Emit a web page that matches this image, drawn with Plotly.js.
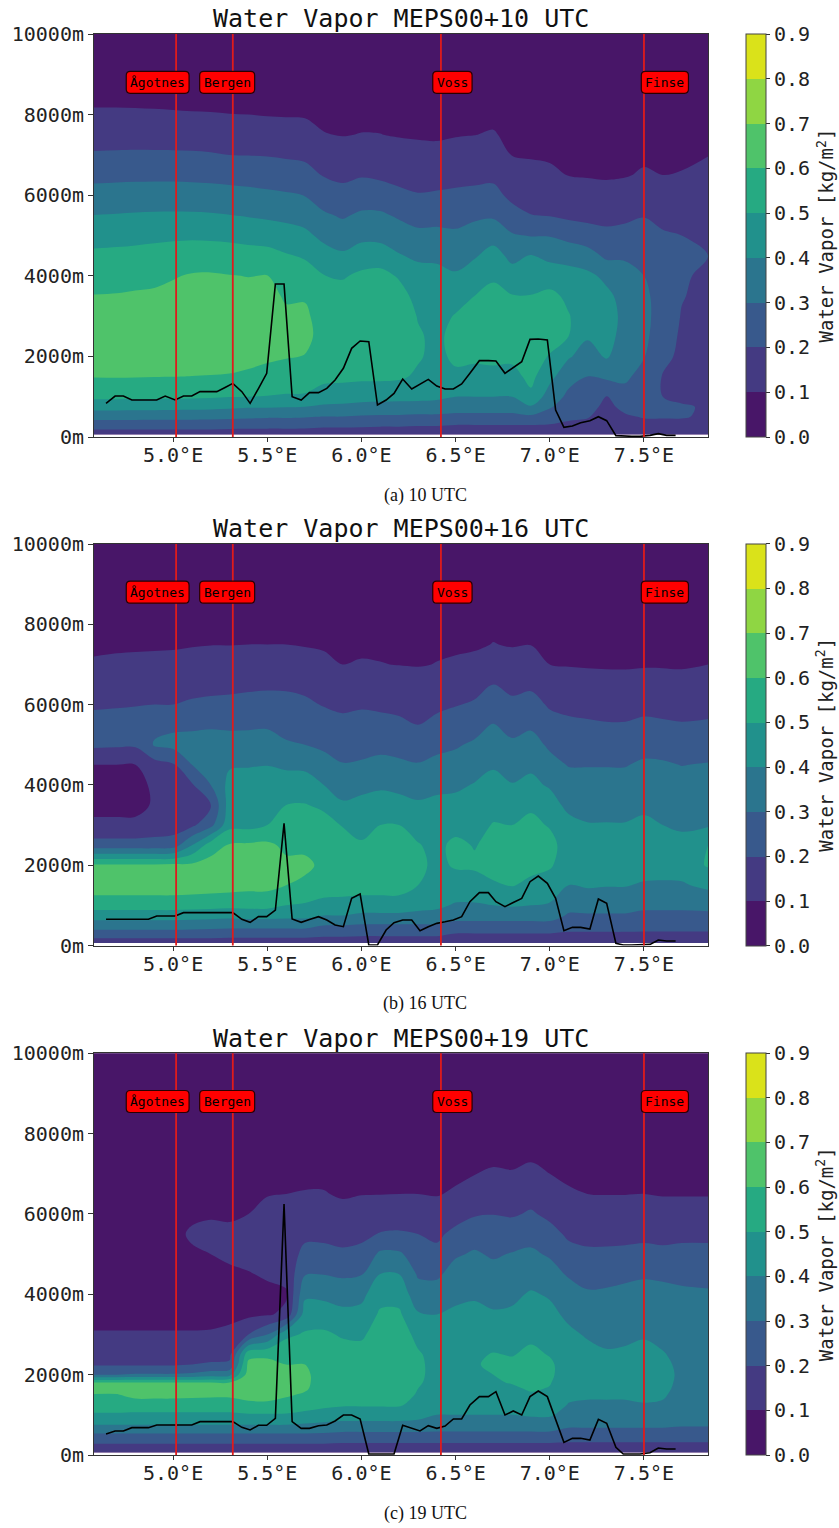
<!DOCTYPE html>
<html><head><meta charset="utf-8">
<script src="https://cdn.plot.ly/plotly-3.0.1.min.js"></script>
<style>html,body{margin:0;padding:0;background:#fff}#chart{width:839px;height:1528px}</style>
</head><body><div id="chart"></div>
<script>
// ---------------- data ----------------
const lons = [4.58,4.7,4.8,4.9,5.0,5.1,5.2,5.3,5.4,5.5,5.6,5.7,5.8,5.9,6.0,6.1,6.2,6.3,6.4,6.5,6.6,6.7,6.8,6.9,7.0,7.1,7.2,7.3,7.4,7.5,7.6,7.7,7.84];
const heightsA = [60,150,300,500,750,1000,1500,2000,2500,3000,3500,4000,4500,5000,5500,6000,6500,7000,7500,8000,8500,9000,10000];
const heightsB = [60,150,300,500,750,1000,1250,1500,1650,1800,2000,2250,2500,3000,3500,4000,4500,5000,5500,6000,6500,7000,7500,8000,9000,10000];

// water vapour profiles, one array per longitude (bottom -> top)
const wv10 = [
[.14,.185,.25,.332,.438,.522,.604,.632,.66,.632,.603,.562,.519,.465,.401,.337,.273,.21,.159,.111,.08,.06,.04],
[.14,.185,.25,.332,.438,.52,.605,.635,.66,.635,.605,.568,.523,.469,.405,.34,.276,.212,.16,.111,.08,.06,.04],
[.14,.185,.25,.332,.436,.52,.604,.635,.662,.638,.61,.573,.527,.474,.409,.343,.278,.213,.161,.11,.08,.06,.04],
[.14,.185,.25,.33,.435,.518,.602,.635,.665,.64,.614,.578,.532,.48,.412,.345,.279,.213,.159,.108,.08,.06,.04],
[.14,.185,.248,.328,.432,.517,.601,.635,.665,.645,.622,.594,.539,.484,.413,.345,.279,.213,.158,.106,.08,.06,.04],
[.14,.185,.248,.328,.43,.515,.599,.64,.67,.655,.632,.607,.553,.484,.412,.343,.276,.211,.157,.104,.08,.06,.04],
[.14,.185,.246,.326,.426,.51,.597,.638,.668,.655,.633,.61,.55,.481,.409,.34,.273,.207,.155,.103,.08,.06,.04],
[.14,.18,.24,.323,.42,.503,.594,.635,.665,.65,.63,.603,.546,.476,.402,.334,.267,.2,.15,.101,.08,.06,.04],
[.14,.18,.235,.316,.41,.5,.585,.625,.655,.645,.625,.598,.536,.468,.393,.327,.262,.198,.149,.1,.08,.06,.04],
[.14,.18,.232,.31,.41,.497,.57,.615,.645,.64,.625,.602,.533,.458,.384,.318,.256,.195,.145,.096,.08,.06,.04],
[.14,.18,.232,.31,.405,.49,.56,.605,.625,.615,.59,.56,.508,.442,.374,.31,.248,.188,.14,.094,.08,.06,.04],
[.14,.18,.23,.305,.4,.49,.55,.598,.615,.61,.595,.54,.49,.423,.36,.298,.236,.18,.135,.092,.08,.06,.04],
[.14,.175,.22,.298,.385,.45,.53,.565,.58,.575,.55,.502,.44,.375,.313,.252,.194,.148,.103,.085,.07,.06,.04],
[.14,.175,.22,.298,.38,.445,.525,.56,.575,.565,.54,.49,.415,.35,.289,.231,.18,.137,.097,.08,.07,.06,.04],
[.14,.175,.215,.29,.37,.435,.52,.56,.58,.575,.56,.52,.446,.376,.315,.252,.193,.147,.102,.085,.07,.06,.04],
[.14,.175,.21,.285,.365,.435,.52,.56,.58,.575,.56,.53,.45,.37,.315,.245,.183,.142,.101,.085,.07,.06,.04],
[.14,.175,.21,.285,.365,.43,.515,.555,.57,.56,.535,.49,.407,.347,.287,.22,.172,.132,.095,.082,.07,.06,.04],
[.14,.175,.205,.28,.36,.43,.485,.51,.51,.495,.47,.44,.382,.322,.265,.205,.164,.124,.092,.08,.07,.06,.04],
[.14,.175,.205,.28,.36,.42,.46,.475,.48,.475,.46,.43,.38,.323,.27,.21,.167,.122,.09,.08,.07,.06,.04],
[.14,.17,.2,.27,.35,.4,.48,.52,.53,.505,.47,.41,.365,.315,.27,.215,.175,.135,.095,.08,.07,.06,.04],
[.14,.17,.2,.27,.35,.4,.465,.52,.54,.525,.5,.44,.392,.335,.285,.22,.178,.137,.099,.082,.07,.06,.04],
[.14,.17,.2,.27,.35,.4,.47,.525,.55,.54,.52,.49,.43,.37,.285,.225,.182,.14,.105,.085,.07,.06,.04],
[.14,.17,.2,.27,.35,.4,.47,.52,.54,.53,.505,.43,.38,.31,.23,.18,.14,.098,.085,.075,.07,.06,.04],
[.14,.17,.2,.28,.39,.48,.525,.53,.545,.535,.502,.47,.405,.295,.202,.165,.125,.093,.082,.075,.07,.06,.04],
[.14,.17,.195,.25,.31,.35,.43,.495,.53,.545,.525,.45,.375,.295,.195,.155,.115,.09,.08,.075,.07,.06,.04],
[.14,.165,.19,.21,.25,.28,.33,.41,.5,.505,.48,.43,.37,.265,.18,.145,.098,.09,.08,.075,.07,.06,.04],
[.14,.16,.18,.205,.23,.25,.3,.36,.41,.45,.455,.42,.345,.24,.175,.13,.095,.085,.08,.075,.07,.06,.04],
[.14,.15,.16,.17,.18,.19,.32,.41,.43,.44,.42,.38,.28,.22,.175,.125,.092,.085,.08,.075,.07,.06,.04],
[.14,.15,.165,.19,.22,.26,.32,.35,.37,.375,.37,.34,.285,.23,.18,.135,.095,.085,.08,.075,.07,.06,.04],
[.14,.15,.18,.205,.215,.22,.26,.305,.32,.325,.32,.3,.27,.24,.195,.15,.108,.088,.08,.075,.07,.06,.04],
[.14,.15,.18,.205,.21,.2,.195,.225,.25,.26,.26,.25,.235,.21,.175,.14,.1,.088,.08,.075,.07,.06,.04],
[.14,.15,.18,.205,.205,.19,.175,.18,.185,.195,.205,.21,.205,.2,.17,.135,.103,.09,.08,.075,.07,.06,.04],
[.14,.15,.17,.19,.195,.185,.17,.165,.165,.17,.175,.185,.2,.195,.175,.155,.125,.098,.085,.075,.07,.06,.04]
];
const wv16 = [
[.14,.185,.26,.345,.45,.545,.655,.615,.24,.12,.07,.07,.1,.22,.24,.185,.16,.11,.085,.075,.07,.06,.04],
[.14,.185,.26,.345,.45,.545,.655,.615,.24,.12,.07,.07,.1,.215,.245,.19,.165,.115,.088,.075,.07,.06,.04],
[.14,.185,.26,.345,.45,.545,.655,.615,.24,.12,.072,.072,.1,.215,.25,.195,.165,.12,.088,.075,.07,.06,.04],
[.14,.185,.26,.345,.45,.545,.655,.615,.24,.14,.11,.115,.16,.31,.27,.2,.17,.12,.09,.075,.07,.06,.04],
[.14,.185,.26,.345,.45,.545,.655,.62,.25,.15,.13,.14,.19,.33,.28,.2,.17,.125,.09,.075,.07,.06,.04],
[.14,.185,.26,.34,.445,.54,.65,.62,.4,.18,.15,.19,.3,.34,.28,.21,.175,.13,.095,.078,.07,.06,.04],
[.14,.185,.255,.335,.44,.535,.645,.64,.55,.27,.19,.3,.36,.35,.285,.215,.18,.135,.098,.08,.07,.06,.04],
[.14,.18,.25,.33,.43,.53,.64,.655,.61,.47,.45,.43,.39,.335,.285,.22,.18,.135,.098,.08,.07,.06,.04],
[.14,.18,.25,.33,.44,.53,.63,.66,.615,.47,.45,.43,.395,.34,.285,.225,.185,.14,.1,.082,.07,.06,.04],
[.14,.18,.25,.33,.44,.53,.63,.66,.62,.5,.46,.44,.398,.34,.288,.228,.188,.142,.1,.082,.07,.06,.04],
[.14,.18,.25,.33,.43,.5,.6,.62,.58,.54,.5,.44,.385,.31,.27,.23,.185,.14,.1,.082,.07,.06,.04],
[.14,.18,.25,.33,.43,.49,.58,.62,.58,.55,.505,.44,.38,.3,.265,.215,.18,.135,.095,.08,.07,.06,.04],
[.14,.175,.23,.3,.4,.47,.55,.58,.57,.54,.48,.4,.33,.285,.24,.195,.165,.12,.09,.078,.07,.06,.04],
[.14,.175,.23,.3,.4,.47,.54,.555,.54,.495,.415,.35,.305,.26,.22,.185,.155,.1,.085,.075,.07,.06,.04],
[.14,.175,.22,.29,.38,.46,.54,.555,.51,.47,.42,.38,.31,.27,.23,.19,.155,.105,.088,.078,.07,.06,.04],
[.14,.175,.22,.29,.38,.46,.54,.56,.545,.5,.44,.385,.32,.28,.225,.185,.15,.102,.088,.078,.07,.06,.04],
[.14,.175,.22,.29,.38,.46,.54,.56,.545,.5,.43,.375,.315,.27,.215,.18,.145,.098,.088,.078,.07,.06,.04],
[.14,.175,.22,.29,.37,.44,.5,.52,.505,.47,.41,.37,.305,.26,.2,.17,.14,.095,.085,.075,.07,.06,.04],
[.14,.175,.22,.29,.37,.42,.46,.48,.48,.46,.42,.38,.32,.28,.225,.18,.148,.102,.088,.078,.07,.06,.04],
[.14,.175,.2,.27,.34,.39,.46,.51,.52,.47,.425,.385,.335,.29,.245,.195,.16,.11,.088,.078,.07,.06,.04],
[.14,.175,.2,.27,.34,.39,.46,.515,.495,.47,.44,.405,.365,.315,.26,.21,.17,.12,.09,.08,.07,.06,.04],
[.14,.175,.2,.27,.34,.4,.49,.53,.525,.505,.47,.43,.39,.345,.305,.25,.2,.15,.102,.085,.07,.06,.04],
[.14,.175,.2,.27,.34,.41,.505,.53,.525,.5,.45,.405,.36,.315,.27,.22,.175,.13,.095,.08,.07,.06,.04],
[.14,.175,.2,.27,.34,.4,.48,.525,.53,.515,.49,.42,.385,.335,.285,.23,.185,.14,.098,.082,.07,.06,.04],
[.14,.175,.2,.27,.34,.39,.46,.51,.52,.495,.44,.39,.33,.285,.23,.19,.145,.1,.085,.075,.07,.06,.04],
[.14,.17,.19,.24,.29,.33,.4,.455,.47,.43,.375,.34,.295,.26,.215,.18,.14,.095,.085,.075,.07,.06,.04],
[.14,.17,.19,.24,.29,.34,.41,.45,.45,.405,.37,.335,.295,.25,.21,.175,.135,.092,.082,.075,.07,.06,.04],
[.14,.17,.19,.24,.29,.34,.405,.44,.445,.405,.37,.335,.295,.248,.205,.172,.132,.09,.082,.075,.07,.06,.04],
[.14,.17,.19,.24,.29,.34,.405,.44,.45,.405,.37,.335,.295,.25,.205,.17,.13,.09,.082,.075,.07,.06,.04],
[.14,.165,.19,.23,.28,.32,.39,.44,.455,.42,.38,.35,.315,.265,.215,.178,.138,.092,.082,.075,.07,.06,.04],
[.14,.165,.19,.23,.28,.32,.39,.43,.44,.4,.37,.345,.31,.265,.21,.175,.135,.092,.082,.075,.07,.06,.04],
[.14,.165,.19,.23,.28,.32,.39,.44,.43,.385,.36,.335,.298,.255,.205,.172,.132,.09,.082,.075,.07,.06,.04],
[.14,.165,.19,.23,.28,.33,.42,.51,.5,.39,.36,.335,.305,.26,.21,.175,.14,.1,.085,.075,.07,.06,.04]
];
const wv19 = [
[.14,.165,.205,.285,.4,.49,.54,.595,.635,.605,.3,.19,.165,.105,.08,.07,.065,.06,.06,.055,.05,.05,.05,.045,.04,.04],
[.14,.165,.205,.285,.4,.49,.54,.595,.635,.605,.3,.19,.165,.105,.08,.07,.065,.06,.06,.055,.05,.05,.05,.045,.04,.04],
[.14,.165,.205,.285,.4,.48,.56,.625,.64,.61,.31,.19,.165,.105,.08,.07,.065,.06,.06,.055,.05,.05,.05,.045,.04,.04],
[.14,.165,.205,.285,.4,.48,.56,.625,.64,.61,.31,.19,.165,.105,.08,.07,.065,.06,.06,.055,.05,.05,.05,.045,.04,.04],
[.14,.165,.205,.285,.4,.48,.56,.625,.64,.61,.31,.19,.165,.105,.08,.07,.065,.065,.07,.06,.05,.05,.05,.045,.04,.04],
[.14,.165,.205,.285,.4,.48,.56,.62,.635,.61,.32,.2,.165,.105,.08,.075,.075,.085,.115,.08,.06,.055,.05,.045,.04,.04],
[.14,.165,.205,.285,.4,.48,.56,.615,.625,.605,.35,.21,.17,.105,.085,.08,.085,.1,.125,.09,.065,.055,.05,.045,.04,.04],
[.14,.165,.205,.285,.4,.48,.56,.615,.625,.605,.37,.22,.175,.11,.09,.085,.09,.11,.13,.08,.065,.055,.05,.045,.04,.04],
[.14,.165,.205,.285,.4,.49,.58,.63,.65,.65,.645,.625,.57,.2,.08,.075,.095,.125,.145,.1,.07,.055,.05,.045,.04,.04],
[.14,.165,.205,.285,.4,.49,.58,.635,.655,.655,.65,.63,.58,.3,.09,.08,.11,.14,.16,.13,.095,.07,.055,.05,.04,.04],
[.14,.165,.205,.285,.4,.49,.57,.61,.62,.62,.62,.6,.57,.48,.12,.09,.125,.15,.17,.155,.1,.075,.06,.05,.04,.04],
[.14,.165,.205,.285,.39,.47,.55,.59,.61,.615,.615,.6,.57,.51,.45,.38,.295,.225,.18,.15,.105,.08,.065,.05,.04,.04],
[.14,.165,.205,.28,.38,.46,.52,.55,.56,.565,.565,.56,.55,.515,.45,.375,.298,.225,.18,.148,.105,.08,.065,.05,.04,.04],
[.14,.165,.2,.27,.37,.45,.51,.545,.555,.56,.56,.555,.54,.49,.425,.36,.285,.215,.17,.13,.09,.075,.06,.05,.04,.04],
[.14,.165,.2,.27,.37,.45,.51,.545,.555,.555,.555,.55,.535,.485,.43,.375,.295,.225,.18,.138,.097,.078,.062,.05,.04,.04],
[.14,.165,.2,.27,.37,.45,.51,.545,.56,.565,.57,.57,.565,.545,.515,.465,.402,.32,.205,.15,.098,.078,.062,.05,.04,.04],
[.14,.165,.2,.27,.37,.45,.51,.545,.56,.565,.57,.57,.565,.545,.515,.465,.4,.315,.21,.155,.1,.078,.062,.05,.04,.04],
[.14,.165,.2,.27,.37,.43,.47,.49,.5,.51,.515,.515,.51,.475,.41,.34,.29,.25,.2,.15,.1,.078,.062,.05,.04,.04],
[.14,.165,.2,.27,.36,.4,.42,.44,.46,.47,.475,.475,.47,.445,.4,.34,.285,.22,.185,.14,.095,.078,.062,.05,.04,.04],
[.14,.165,.2,.27,.36,.4,.43,.455,.47,.48,.485,.485,.48,.455,.415,.38,.335,.29,.22,.17,.11,.085,.065,.05,.04,.04],
[.14,.165,.2,.27,.36,.4,.43,.46,.475,.485,.49,.49,.485,.46,.42,.39,.35,.31,.265,.19,.145,.098,.075,.055,.04,.04],
[.14,.165,.2,.27,.36,.4,.43,.46,.48,.49,.5,.52,.505,.455,.41,.37,.33,.29,.245,.198,.155,.11,.08,.06,.04,.04],
[.14,.165,.2,.27,.36,.4,.43,.46,.485,.505,.515,.52,.495,.46,.415,.38,.34,.305,.25,.19,.148,.105,.08,.06,.04,.04],
[.14,.165,.2,.27,.36,.41,.45,.49,.51,.52,.53,.535,.52,.48,.445,.41,.36,.315,.27,.21,.165,.12,.085,.065,.045,.04],
[.14,.165,.2,.27,.36,.41,.45,.48,.495,.505,.515,.515,.495,.46,.425,.39,.335,.29,.23,.18,.14,.1,.08,.06,.045,.04],
[.14,.165,.195,.25,.32,.37,.395,.42,.435,.445,.455,.455,.45,.42,.38,.345,.29,.23,.185,.15,.11,.085,.07,.055,.045,.04],
[.14,.165,.195,.25,.32,.37,.39,.41,.425,.435,.44,.44,.43,.39,.35,.31,.27,.215,.175,.14,.1,.08,.065,.055,.045,.04],
[.14,.165,.195,.25,.32,.37,.39,.41,.42,.43,.435,.425,.41,.375,.345,.315,.27,.215,.175,.135,.098,.08,.065,.055,.045,.04],
[.14,.165,.195,.25,.32,.37,.39,.41,.42,.43,.435,.43,.415,.38,.355,.325,.28,.22,.175,.135,.098,.08,.065,.055,.045,.04],
[.14,.165,.195,.25,.32,.37,.395,.42,.435,.445,.45,.445,.43,.39,.36,.33,.29,.225,.18,.14,.1,.08,.065,.055,.045,.04],
[.14,.165,.195,.25,.32,.37,.39,.41,.42,.425,.425,.415,.405,.38,.355,.325,.285,.22,.175,.135,.095,.078,.065,.055,.045,.04],
[.14,.165,.195,.25,.31,.34,.355,.37,.375,.38,.385,.385,.38,.37,.35,.315,.28,.225,.18,.135,.095,.078,.065,.055,.045,.04],
[.14,.165,.195,.25,.31,.34,.355,.37,.375,.38,.385,.385,.38,.365,.345,.31,.275,.225,.18,.135,.095,.078,.065,.055,.045,.04]
];

// black profile line
const lineLon = [4.644,4.692,4.736,4.781,4.825,4.869,4.913,4.958,5.011,5.055,
 5.099,5.143,5.188,5.232,5.276,5.317,5.365,5.409,5.453,5.497,
 5.543,5.589,5.632,5.680,5.724,5.772,5.816,5.860,5.904,5.948,
 5.993,6.039,6.085,6.131,6.173,6.219,6.267,6.311,6.355,6.400,
 6.444,6.488,6.532,6.576,6.626,6.674,6.714,6.762,6.806,6.851,
 6.895,6.939,6.987,7.031,7.075,7.120,7.164,7.213,7.258,7.302,
 7.351,7.390,7.435,7.479,7.532,7.576,7.620,7.668];
const line10 = [835,1017,1017,918,918,918,918,1017,918,1017,
 1017,1125,1125,1125,1230,1331,1125,835,1200,1580,
 3796,3796,1000,918,1100,1100,1207,1414,1704,2200,
 2382,2365,794,918,1083,1439,1191,1315,1430,1265,
 1191,1191,1315,1580,1894,1894,1886,1580,1720,1869,
 2423,2431,2407,670,240,273,356,405,504,405,
 33,17,17,17,41,83,41,41];
const line16 = [652,652,652,652,652,652,734,734,734,818,
 818,818,818,818,818,818,652,577,718,718,
 884,3042,660,577,650,718,635,510,469,1174,
 1282,12,12,386,568,635,635,369,469,552,
 590,635,718,1091,1316,1316,1091,967,1070,1174,
 1589,1730,1548,1174,369,452,452,411,1158,1050,
 54,12,12,12,29,137,112,112];
const line19 = [523,598,598,681,681,681,747,747,747,747,
 747,830,830,830,830,830,689,623,739,739,
 913,6250,830,664,664,730,747,847,996,996,
 896,25,25,25,25,739,664,598,730,664,
 722,896,896,1245,1453,1453,1577,996,1096,996,
 1453,1594,1453,872,315,415,415,374,888,789,
 191,25,25,25,58,174,149,149];

const stationNames = ['Ågotnes','Bergen','Voss','Finse'];
const stationLon = [5.016, 5.317, 6.422, 7.50];
const labelLon = [4.918, 5.287, 6.483, 7.611];
const labelHeight = 8800;

const panelTitles = ['Water Vapor MEPS00+10 UTC','Water Vapor MEPS00+16 UTC','Water Vapor MEPS00+19 UTC'];
const captions = ['(a) 10 UTC','(b) 16 UTC','(c) 19 UTC'];
const xTicks = [5.0,5.5,6.0,6.5,7.0,7.5];
const yTicks = [0,2000,4000,6000,8000,10000];
const levels = [0,0.1,0.2,0.3,0.4,0.5,0.6,0.7,0.8,0.9];
const levelColors = ['#481668','#443a82','#38598c','#2b758e','#21918c','#26aa82','#4fc36a','#8fd643','#dae21a'];

// ---------------- figure ----------------
const W = 839, H = 1528;
const px = v => v / W;
const py = v => 1 - v / H;
const frames = [{top:34,bottom:437},{top:544,bottom:945.5},{top:1053.3,bottom:1455}];
const fields = [wv10, wv16, wv19];
const heightSets = [heightsA, heightsA, heightsB];
const lines = [line10, line16, line19];
const mono = 'DejaVu Sans Mono, monospace';

const stepScale = [];
levelColors.forEach((c, k) => { stepScale.push([k/9, c]); stepScale.push([(k+1)/9, c]); });

function roundedBox(w, h, r) {
  const a = w / 2, b = h / 2;
  return `M ${-a + r},${-b} H ${a - r} Q ${a},${-b} ${a},${-b + r} V ${b - r} Q ${a},${b} ${a - r},${b} ` +
         `H ${-a + r} Q ${-a},${b} ${-a},${b - r} V ${-b + r} Q ${-a},${-b} ${-a + r},${-b} Z`;
}

const traces = [], shapes = [], annotations = [];
const layout = {
  width: W, height: H, margin: {l:0,r:0,t:0,b:0},
  paper_bgcolor: '#fff', plot_bgcolor: '#fff', showlegend: false,
  font: {family: mono, color: '#222'}
};

frames.forEach((f, i) => {
  const n = i === 0 ? '' : String(i + 1);
  const xa = 'x' + n, ya = 'y' + n;
  const yc = py((f.top + f.bottom) / 2);
  traces.push({
    type: 'contour', x: lons, y: heightSets[i], z: fields[i], transpose: true,
    xaxis: xa, yaxis: ya, zmin: 0, zmax: 0.9, autocontour: false,
    contours: {start: 0, end: 0.9, size: 0.1, coloring: 'fill', showlines: false},
    line: {width: 0, smoothing: 1},
    colorscale: stepScale, hoverinfo: 'skip',
    colorbar: {
      thickness: 20, thicknessmode: 'pixels', len: f.bottom - f.top, lenmode: 'pixels',
      x: px(746), xanchor: 'left', xpad: 0, y: yc, yanchor: 'middle', ypad: 0,
      outlinewidth: 1, outlinecolor: '#444',
      tickvals: levels, ticktext: levels.map(v => v.toFixed(1)),
      ticks: 'outside', ticklen: 4, tickcolor: '#333', tickwidth: 1,
      tickfont: {family: mono, size: 20, color: '#222'}
    }
  });
  traces.push({
    type: 'scatter', mode: 'lines', x: lineLon, y: lines[i], xaxis: xa, yaxis: ya,
    line: {color: '#000', width: 1.6}, hoverinfo: 'skip'
  });
  const axBase = {
    ticks: 'outside', ticklen: 5, tickcolor: '#333', tickwidth: 1,
    showline: true, linecolor: '#333', linewidth: 1, mirror: true,
    showgrid: false, zeroline: false, fixedrange: true,
    tickfont: {family: mono, size: 20, color: '#222'}
  };
  layout['xaxis' + n] = Object.assign({}, axBase, {
    domain: [px(94), px(708)], range: [4.58, 7.84], anchor: ya,
    tickvals: xTicks, ticktext: xTicks.map(v => v.toFixed(1) + '°E'),
    ticklen: 4, ticklabelstandoff: -4
  });
  layout['yaxis' + n] = Object.assign({}, axBase, {
    domain: [py(f.bottom), py(f.top)], range: [0, 10000], anchor: xa,
    tickvals: yTicks, ticktext: yTicks.map(v => v + 'm')
  });
  stationLon.forEach(s => shapes.push({
    type: 'line', xref: xa, yref: ya + ' domain', x0: s, x1: s, y0: 0, y1: 1,
    line: {color: '#e01b1b', width: 1.8}, layer: 'above'
  }));
  stationNames.forEach((name, k) => {
    const w = name.length * 7.83 + 8;
    shapes.push({
      type: 'path', xref: xa, yref: ya, xsizemode: 'pixel', ysizemode: 'pixel',
      xanchor: labelLon[k], yanchor: labelHeight, path: roundedBox(w, 22, 4),
      fillcolor: '#ff0000', line: {color: '#2a0000', width: 1.2}, layer: 'above'
    });
    annotations.push({
      xref: xa, yref: ya, x: labelLon[k], y: labelHeight, text: name, showarrow: false,
      font: {family: mono, size: 13, color: '#000'},
      xanchor: 'center', yanchor: 'middle'
    });
  });
  annotations.push({
    xref: 'paper', yref: 'paper', x: px(401), y: py(f.top - 15), text: panelTitles[i],
    showarrow: false, font: {family: mono, size: 25, color: '#111'},
    xanchor: 'center', yanchor: 'middle'
  });
  annotations.push({
    xref: 'paper', yref: 'paper', x: px(825), y: yc, text: 'Water Vapor [kg/m<sup>2</sup>]',
    textangle: -90, showarrow: false, font: {family: mono, size: 19, color: '#222'},
    xanchor: 'center', yanchor: 'middle', borderpad: 0
  });
  annotations.push({
    xref: 'paper', yref: 'paper', x: px(425), y: py(f.bottom + 58), text: captions[i],
    showarrow: false, font: {family: 'Liberation Serif, Times New Roman, serif', size: 18, color: '#111'},
    xanchor: 'center', yanchor: 'middle'
  });
});
layout.shapes = shapes;
layout.annotations = annotations;

Plotly.newPlot('chart', traces, layout, {displayModeBar: false, staticPlot: true});
</script></body></html>
